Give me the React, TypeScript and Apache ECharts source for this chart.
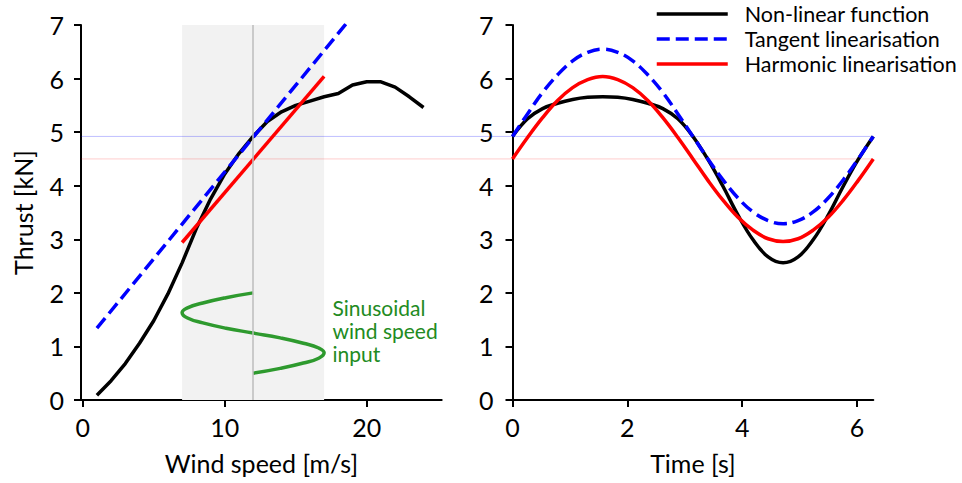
import React, { useEffect, useRef } from "react";
import * as echarts from "echarts";

const FONT = 'Lato, "DejaVu Sans", sans-serif';

// Left panel: thrust vs wind speed
const windSpeeds = [1, 2, 3, 4, 5, 6, 7, 8, 9, 10, 11, 12, 13, 14, 15, 16, 17, 18, 19, 20, 21, 22, 23, 24];
const thrustNonLinear = [0.09, 0.36, 0.68, 1.06, 1.48, 1.98, 2.56, 3.2, 3.75, 4.22, 4.6, 4.92, 5.2, 5.38, 5.5, 5.58, 5.66, 5.72, 5.88, 5.94, 5.94, 5.84, 5.66, 5.46];
const tangentX = [1, 24];
const tangentY = [1.34, 8.79];
const harmonicX = [7, 17];
const harmonicY = [2.94, 6.04];
const windInputX = [12, 10.09, 8.46, 7.38, 7, 7.38, 8.46, 10.09, 12, 13.91, 15.54, 16.62, 17, 16.62, 15.54, 13.91, 12];
const windInputY = [2.0, 1.91, 1.81, 1.72, 1.63, 1.53, 1.44, 1.34, 1.25, 1.16, 1.06, 0.97, 0.88, 0.78, 0.69, 0.59, 0.5];
const shadeRange = [7, 17];
const meanWind = 12;
const tangentLevel = 4.92;
const harmonicLevel = 4.5;

// Right panel: thrust vs time
const times = [0, 0.262, 0.524, 0.785, 1.047, 1.309, 1.571, 1.833, 2.094, 2.356, 2.618, 2.88, 3.142, 3.403, 3.665, 3.927, 4.189, 4.451, 4.712, 4.974, 5.236, 5.498, 5.76, 6.021, 6.283];
const timeNonLinear = [4.92, 5.25, 5.44, 5.54, 5.61, 5.65, 5.66, 5.65, 5.61, 5.54, 5.44, 5.25, 4.92, 4.49, 3.99, 3.45, 2.99, 2.67, 2.56, 2.67, 2.99, 3.45, 3.99, 4.49, 4.92];
const timeTangent = [4.92, 5.34, 5.74, 6.07, 6.33, 6.49, 6.55, 6.49, 6.33, 6.07, 5.74, 5.34, 4.92, 4.5, 4.11, 3.77, 3.51, 3.35, 3.29, 3.35, 3.51, 3.77, 4.11, 4.5, 4.92];
const timeHarmonic = [4.5, 4.9, 5.27, 5.59, 5.83, 5.98, 6.04, 5.98, 5.83, 5.59, 5.27, 4.9, 4.5, 4.1, 3.73, 3.41, 3.17, 3.01, 2.96, 3.01, 3.17, 3.41, 3.73, 4.1, 4.5];

const leftTicks = [0, 10, 20];
const rightTicks = [0, 2, 4, 6];

const NAMES = ["Non-linear function", "Tangent linearisation", "Harmonic linearisation"];

const zip = (xs: number[], ys: number[]) => xs.map((x, i) => [x, ys[i]]);

export default function App() {
  const ref = useRef<HTMLDivElement>(null);
  useEffect(() => {
    if (!ref.current) return;
    const chart = echarts.init(ref.current, null, { renderer: "svg" });
    const axisCommon = {
      type: "value" as const,
      splitLine: { show: false },
      axisLine: { show: true, onZero: false, lineStyle: { color: "#000", width: 2 } },
      axisTick: { show: true, length: 7, lineStyle: { color: "#000", width: 2 } },
      axisLabel: { color: "#000", fontSize: 25, fontFamily: FONT },
      nameTextStyle: { color: "#000", fontSize: 25, fontFamily: FONT },
    };
    const LW = 3.5;
    const lineBase = { type: "line" as const, symbol: "none", showSymbol: false, z: 3 };
    chart.setOption({
      animation: false,
      textStyle: { fontFamily: FONT },
      grid: [
        { left: 81, top: 25, width: 360.7, height: 375 },
        { left: 512.5, top: 25, width: 360.8, height: 375 },
        { left: 81, top: 25, width: 792.3, height: 375 },
      ],
      legend: {
        orient: "vertical",
        left: 650,
        top: -2,
        itemWidth: 71,
        itemHeight: 14,
        itemGap: 3,
        data: NAMES,
        itemStyle: { opacity: 0 },
        lineStyle: { width: LW },
        textStyle: { fontSize: 21.5, color: "#000", fontFamily: FONT, padding: [0, 0, 0, 12] },
      },
      xAxis: [
        {
          ...axisCommon,
          gridIndex: 0,
          min: -0.12,
          max: 25.28,
          axisTick: { ...axisCommon.axisTick, customValues: leftTicks },
          axisLabel: { ...axisCommon.axisLabel, customValues: leftTicks, margin: 14 },
          name: "Wind speed [m/s]",
          nameLocation: "middle",
          nameGap: 50,
        },
        {
          ...axisCommon,
          gridIndex: 1,
          min: 0,
          max: 6.2832,
          axisTick: { ...axisCommon.axisTick, customValues: rightTicks },
          axisLabel: { ...axisCommon.axisLabel, customValues: rightTicks, margin: 14 },
          name: "Time [s]",
          nameLocation: "middle",
          nameGap: 50,
        },
        { type: "value", gridIndex: 2, min: 0, max: 1, show: false },
      ],
      yAxis: [
        {
          ...axisCommon,
          gridIndex: 0,
          min: 0,
          max: 7,
          interval: 1,
          axisLabel: { ...axisCommon.axisLabel, margin: 17 },
          name: "Thrust [kN]",
          nameLocation: "middle",
          nameGap: 46,
        },
        {
          ...axisCommon,
          gridIndex: 1,
          min: 0,
          max: 7,
          interval: 1,
          axisLabel: { ...axisCommon.axisLabel, margin: 19 },
        },
        { type: "value", gridIndex: 2, min: 0, max: 7, show: false },
      ],
      graphic: [
        {
          type: "text",
          left: 332.5,
          top: 296,
          z: 10,
          style: {
            text: "Sinusoidal\nwind speed\ninput",
            fill: "#228b22",
            fontSize: 21,
            lineHeight: 23,
            fontFamily: FONT,
          },
        },
      ],
      series: [
        {
          type: "line",
          xAxisIndex: 0,
          yAxisIndex: 0,
          data: [],
          z: 0,
          silent: true,
          markArea: {
            silent: true,
            itemStyle: { color: "#f2f2f2" },
            data: [[{ xAxis: shadeRange[0] }, { xAxis: shadeRange[1] }]],
          },
          markLine: {
            silent: true,
            symbol: "none",
            label: { show: false },
            lineStyle: { color: "#bdbdbd", width: 1.5, type: "solid" },
            data: [{ xAxis: meanWind }],
          },
        },
        {
          type: "line",
          xAxisIndex: 2,
          yAxisIndex: 2,
          symbol: "none",
          z: 1,
          silent: true,
          lineStyle: { color: "rgba(0,0,255,0.25)", width: 1 },
          data: [[0, tangentLevel], [1, tangentLevel]],
        },
        {
          type: "line",
          xAxisIndex: 2,
          yAxisIndex: 2,
          symbol: "none",
          z: 1,
          silent: true,
          lineStyle: { color: "rgba(255,0,0,0.2)", width: 1 },
          data: [[0, harmonicLevel], [1, harmonicLevel]],
        },
        {
          ...lineBase,
          name: NAMES[0],
          xAxisIndex: 0,
          yAxisIndex: 0,
          lineStyle: { color: "#000", width: LW },
          itemStyle: { color: "#000" },
          data: zip(windSpeeds, thrustNonLinear),
        },
        {
          ...lineBase,
          name: NAMES[1],
          xAxisIndex: 0,
          yAxisIndex: 0,
          lineStyle: { color: "#0000ff", width: LW, type: [13, 6] },
          itemStyle: { color: "#0000ff" },
          data: zip(tangentX, tangentY),
        },
        {
          ...lineBase,
          name: NAMES[2],
          xAxisIndex: 0,
          yAxisIndex: 0,
          lineStyle: { color: "#ff0000", width: LW },
          itemStyle: { color: "#ff0000" },
          data: zip(harmonicX, harmonicY),
        },
        {
          ...lineBase,
          name: "wind input",
          xAxisIndex: 0,
          yAxisIndex: 0,
          smooth: 0.5,
          lineStyle: { color: "#2e9a2e", width: LW },
          data: zip(windInputX, windInputY),
        },
        {
          ...lineBase,
          name: NAMES[0],
          xAxisIndex: 1,
          yAxisIndex: 1,
          smooth: 0.4,
          lineStyle: { color: "#000", width: LW },
          itemStyle: { color: "#000" },
          data: zip(times, timeNonLinear),
        },
        {
          ...lineBase,
          name: NAMES[1],
          xAxisIndex: 1,
          yAxisIndex: 1,
          smooth: 0.4,
          lineStyle: { color: "#0000ff", width: LW, type: [13, 6] },
          itemStyle: { color: "#0000ff" },
          data: zip(times, timeTangent),
        },
        {
          ...lineBase,
          name: NAMES[2],
          xAxisIndex: 1,
          yAxisIndex: 1,
          smooth: 0.4,
          lineStyle: { color: "#ff0000", width: LW },
          itemStyle: { color: "#ff0000" },
          data: zip(times, timeHarmonic),
        },
      ],
    });
    return () => chart.dispose();
  }, []);
  return <div ref={ref} style={{ width: 962, height: 483, position: "absolute", left: 0, top: 0 }} />;
}
